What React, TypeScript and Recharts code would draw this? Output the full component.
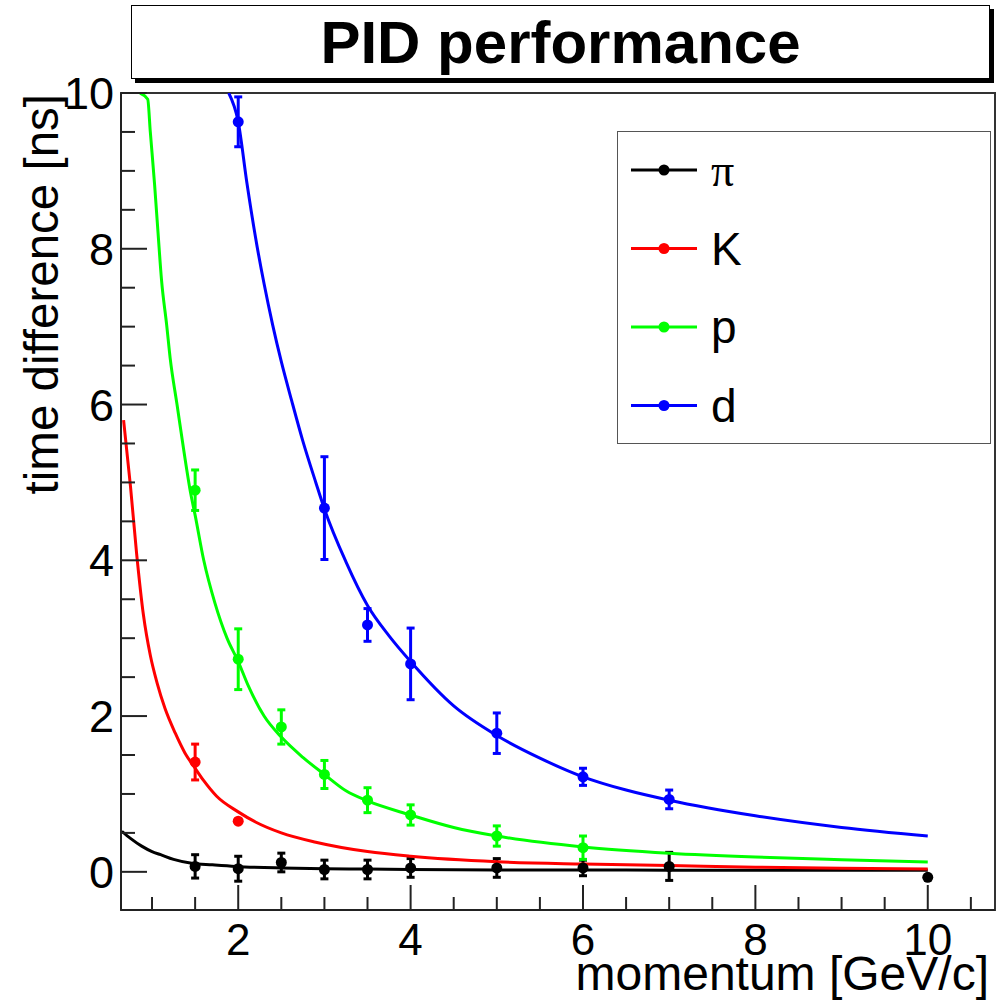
import { ComposedChart, Line, Scatter, XAxis, YAxis, ErrorBar, ReferenceArea } from 'recharts'

// axes
const xDomain = [0.64, 10.78]
const yDomain = [-0.49, 10]
const xTicks = [1, 1.5, 2, 2.5, 3, 3.5, 4, 4.5, 5, 5.5, 6, 6.5, 7, 7.5, 8, 8.5, 9, 9.5, 10, 10.5]
const xLabels = [2, 4, 6, 8, 10]
const yTicks = [0, 0.5, 1, 1.5, 2, 2.5, 3, 3.5, 4, 4.5, 5, 5.5, 6, 6.5, 7, 7.5, 8, 8.5, 9, 9.5, 10]
const yLabels = [0, 2, 4, 6, 8, 10]

// measured points (momentum GeV/c, time difference ns, error ns)
const pionP = [1.5, 2, 2.5, 3, 3.5, 4, 5, 6, 7, 10]
const pionDt = [0.07, 0.04, 0.12, 0.03, 0.03, 0.05, 0.05, 0.05, 0.07, -0.07]
const pionErr = [0.15, 0.16, 0.12, 0.12, 0.12, 0.12, 0.12, 0.1, 0.18, 0]

const kaonP = [1.5, 2]
const kaonDt = [1.41, 0.65]
const kaonErr = [0.23, 0]

const protonP = [1.5, 2, 2.5, 3, 3.5, 4, 5, 6]
const protonDt = [4.9, 2.73, 1.86, 1.25, 0.92, 0.73, 0.46, 0.31]
const protonErr = [0.26, 0.39, 0.22, 0.18, 0.16, 0.13, 0.13, 0.15]

const deuteronP = [2, 3, 3.5, 4, 5, 6, 7]
const deuteronDt = [9.63, 4.67, 3.17, 2.67, 1.78, 1.22, 0.93]
const deuteronErr = [0.32, 0.66, 0.21, 0.46, 0.26, 0.11, 0.12]

// fit curves
const pionFitP = [0.65, 0.75, 0.88, 1, 1.1, 1.25, 1.46, 1.7, 1.97, 2.5, 3, 3.5, 4, 5, 6, 7, 8, 9, 10]
const pionFitDt = [0.52, 0.43, 0.33, 0.26, 0.22, 0.16, 0.11, 0.09, 0.07, 0.05, 0.04, 0.035, 0.03, 0.025, 0.025, 0.02, 0.02, 0.02, 0.02]

const kaonFitP = [0.67, 0.75, 0.82, 0.9, 0.98, 1.06, 1.15, 1.27, 1.38, 1.5, 1.6, 1.75, 2, 2.2, 2.5, 2.9, 3.5, 4, 5, 6, 7, 8, 9, 10]
const kaonFitDt = [5.8, 4.95, 4.1, 3.3, 2.78, 2.42, 2.1, 1.78, 1.53, 1.33, 1.17, 0.97, 0.77, 0.64, 0.5, 0.38, 0.26, 0.2, 0.13, 0.1, 0.08, 0.06, 0.045, 0.035]

const protonFitP = [0.86, 0.95, 0.98, 1.03, 1.07, 1.11, 1.17, 1.21, 1.29, 1.37, 1.45, 1.5, 1.6, 1.73, 1.87, 2, 2.12, 2.3, 2.5, 2.75, 3, 3.25, 3.5, 4, 4.5, 5, 6, 7, 8, 9, 10]
const protonFitDt = [10, 9.92, 9.5, 8.82, 8.2, 7.6, 7.02, 6.6, 6, 5.4, 4.85, 4.58, 4, 3.45, 3, 2.7, 2.38, 2, 1.73, 1.47, 1.25, 1.04, 0.91, 0.73, 0.57, 0.46, 0.32, 0.24, 0.19, 0.155, 0.125]

const deuteronFitP = [1.89, 2, 2.1, 2.2, 2.3, 2.4, 2.5, 2.62, 2.75, 2.9, 3, 3.25, 3.5, 3.75, 4, 4.5, 5, 5.5, 6, 6.5, 7, 8, 9, 10]
const deuteronFitDt = [10, 9.63, 8.85, 8.15, 7.55, 7.02, 6.55, 6.05, 5.53, 5, 4.66, 3.98, 3.42, 3.03, 2.7, 2.13, 1.75, 1.46, 1.22, 1.05, 0.92, 0.72, 0.57, 0.46]

const toPoints = (xs: number[], ys: number[], errs?: number[]) =>
  xs.map((x, i) => ({ x, y: ys[i], err: errs ? errs[i] : 0 }))

const species = [
  { name: 'π', color: '#000000', pts: toPoints(pionP, pionDt, pionErr), fit: toPoints(pionFitP, pionFitDt) },
  { name: 'K', color: '#ff0000', pts: toPoints(kaonP, kaonDt, kaonErr), fit: toPoints(kaonFitP, kaonFitDt) },
  { name: 'p', color: '#00ff00', pts: toPoints(protonP, protonDt, protonErr), fit: toPoints(protonFitP, protonFitDt) },
  { name: 'd', color: '#0000ff', pts: toPoints(deuteronP, deuteronDt, deuteronErr), fit: toPoints(deuteronFitP, deuteronFitDt) },
]

const FONT = '"Liberation Sans", Arial, Helvetica, sans-serif'

function XTick(props: any) {
  const { x, y, payload } = props
  const major = xLabels.includes(payload.value)
  return (
    <g>
      <line x1={x} x2={x} y1={y} y2={y - (major ? 25 : 13)} stroke="#222" strokeWidth={2} />
      {major && (
        <text x={x} y={y + 45} textAnchor="middle" fontSize={44} fill="#000" fontFamily={FONT}>{payload.value}</text>
      )}
    </g>
  )
}

function YTick(props: any) {
  const { x, y, payload } = props
  const major = yLabels.includes(payload.value)
  return (
    <g>
      <line x1={x} x2={x + (major ? 26 : 14)} y1={y} y2={y} stroke="#222" strokeWidth={2} />
      {major && (
        <text x={x - 7} y={y + 16} textAnchor="end" fontSize={45} fill="#000" fontFamily={FONT}>{payload.value}</text>
      )}
    </g>
  )
}

const dot = (color: string) => (p: any) => <circle cx={p.cx} cy={p.cy} r={5.5} fill={color} />

export default function App() {
  return (
    <div style={{ position: 'absolute', left: 0, top: 0, width: 1003, height: 1006, background: '#fff', fontFamily: FONT }}>
      <ComposedChart width={1003} height={1006} margin={{ top: 93, right: 8, bottom: 95, left: 120 }}>
        <XAxis
          dataKey="x" type="number" domain={xDomain} allowDataOverflow
          ticks={xTicks} interval={0} tickSize={0} tickMargin={0} height={1}
          axisLine={{ stroke: '#222', strokeWidth: 2 }} tickLine={false}
          tick={(p: any) => <XTick {...p} />}
          label={(p: any) => (
            <text x={p.viewBox.x + p.viewBox.width - 6} y={p.viewBox.y + 80} textAnchor="end" fontSize={48} fill="#000" fontFamily={FONT}>
              momentum [GeV/c]
            </text>
          )}
        />
        <YAxis
          dataKey="y" type="number" domain={yDomain} allowDataOverflow
          ticks={yTicks} interval={0} tickSize={0} tickMargin={0} width={1}
          axisLine={{ stroke: '#222', strokeWidth: 2 }} tickLine={false}
          tick={(p: any) => <YTick {...p} />}
          label={(p: any) => (
            <text
              x={p.viewBox.x - 62} y={p.viewBox.y + 1} textAnchor="end" fontSize={47.5} fill="#000" fontFamily={FONT}
              transform={`rotate(-90, ${p.viewBox.x - 62}, ${p.viewBox.y + 1})`}
            >
              time difference [ns]
            </text>
          )}
        />
        <ReferenceArea x1={xDomain[0]} x2={xDomain[1]} y1={yDomain[0]} y2={yDomain[1]} fill="none" stroke="#333" strokeWidth={2} />
        {species.map((s) => [
          <Line
            key={s.name + '-fit'} data={s.fit} dataKey="y" type="monotone"
            stroke={s.color} strokeWidth={3} dot={false} activeDot={false} isAnimationActive={false}
          />,
          <Scatter key={s.name + '-pts'} data={s.pts} dataKey="y" fill={s.color} shape={dot(s.color)} isAnimationActive={false}>
            <ErrorBar dataKey="err" direction="y" width={4} stroke={s.color} strokeWidth={3} isAnimationActive={false} />
          </Scatter>,
        ])}
      </ComposedChart>

      {/* title box with ROOT-style drop shadow */}
      <div
        style={{
          position: 'absolute', left: 131, top: 5, width: 857, height: 72,
          border: '1.5px solid #000', background: '#fff', boxShadow: '4px 4px 0 #000',
          display: 'flex', alignItems: 'center', justifyContent: 'center',
          fontWeight: 'bold', fontSize: 60, color: '#000',
        }}
      >
        PID performance
      </div>

      {/* legend */}
      <div style={{ position: 'absolute', left: 617, top: 131, width: 372, height: 311, border: '1.5px solid #555', background: '#fff' }}>
        <svg width={372} height={311}>
          {species.map((s, i) => {
            const cy = 38 + i * 78.5
            return (
              <g key={s.name}>
                <line x1={13} x2={79} y1={cy} y2={cy} stroke={s.color} strokeWidth={3} />
                <circle cx={46} cy={cy} r={5.5} fill={s.color} />
                <text
                  x={93} y={cy + 16} fontSize={46} fill="#000"
                  fontFamily={s.name === 'π' ? '"Liberation Serif", serif' : FONT}
                >
                  {s.name}
                </text>
              </g>
            )
          })}
        </svg>
      </div>
    </div>
  )
}
